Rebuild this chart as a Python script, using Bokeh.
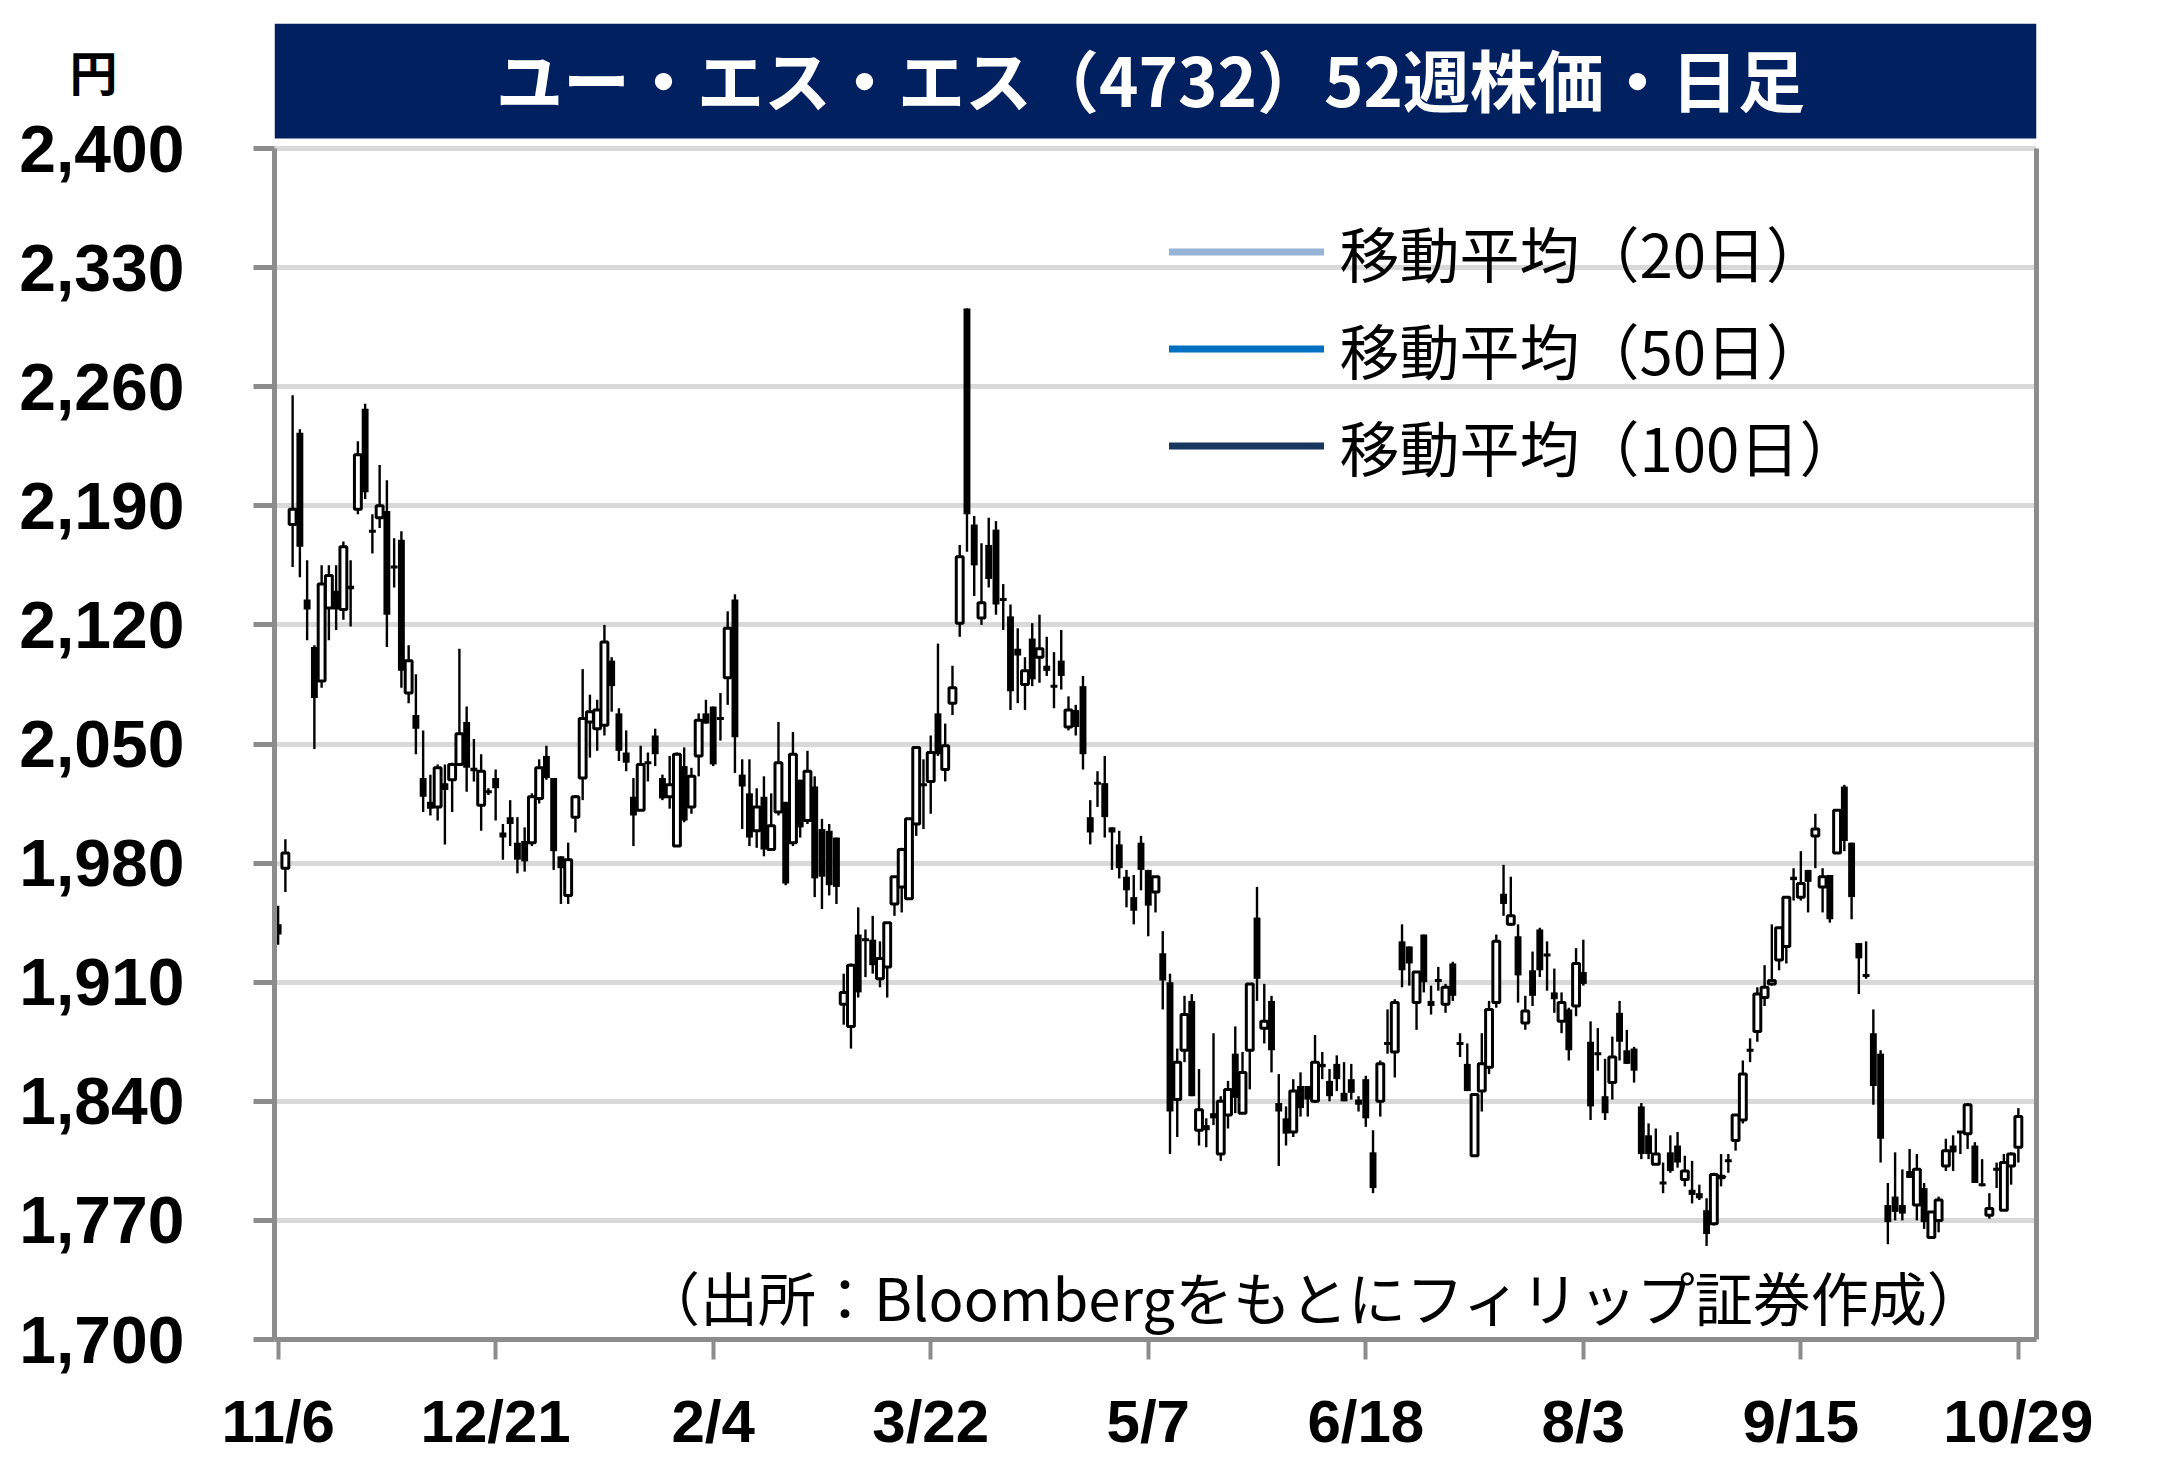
from bokeh.plotting import figure
from bokeh.models import (Range1d, FixedTicker, NumeralTickFormatter, LinearAxis, Label,
                          BoxAnnotation, Legend, LegendItem, ColumnDataSource)
from bokeh.embed import file_html
from bokeh.resources import INLINE

# ---------------- data ----------------
opens = [1944, 1977, 2179, 2233, 2135, 2107, 2087, 2130, 2140, 2129, 2143, 2188, 2247, 2175, 2183, 2187, 2154, 2170, 2080, 2067,
         2030, 2016, 2013, 2027, 2029, 2038, 2063, 2036, 2014, 2022, 2030,
         1998, 2007, 1992, 1993, 1992, 2018, 2043, 2030, 1984, 1961, 2007, 2030, 2063, 2059, 2061, 2099, 2068, 2045, 2019, 2011,
         2039, 2055, 2030, 2019, 1990, 2037, 2013, 2043, 2068, 2072,
         2065, 2089, 2135, 2032, 2021, 1999, 2019, 1988, 2010, 2016, 1992, 2029, 2005, 2025, 2000, 1999, 1995,
         1897, 1884, 1938, 1935, 1935, 1912, 1919, 1956, 1966, 1959, 2003, 2026, 2028, 2068, 2035, 2074, 2121, 2306, 2179, 2124,
         2167, 2176, 2135, 2125, 2106, 2085, 2112, 2101, 2096, 2084, 2099, 2060, 2070,
         2084, 2007, 2027, 2027, 2001, 1991, 1972, 1960, 1992, 1976, 1963, 1927, 1910, 1841, 1870, 1899, 1823, 1826, 1833, 1809,
         1832, 1868, 1833, 1870, 1948,
         1883, 1899, 1839, 1830, 1822, 1849, 1849, 1840, 1862, 1852, 1862, 1845, 1853, 1841, 1853, 1810, 1840, 1874, 1869, 1934,
         1931, 1898, 1938, 1899, 1911, 1897, 1921, 1874, 1862, 1808, 1846,
         1860, 1898, 1962, 1944, 1937, 1886, 1917, 1941, 1926, 1904, 1887, 1894, 1896, 1916, 1875, 1868, 1843, 1851, 1892, 1870,
         1871, 1837, 1820, 1803, 1792, 1810, 1814, 1794, 1788, 1786, 1776, 1768,
         1795, 1805, 1817, 1829, 1870, 1881, 1901, 1909, 1923, 1931, 1972, 1960, 1976, 1996, 1966, 1973, 1986, 2025, 1992, 1933,
         1914, 1880, 1868, 1779, 1784, 1779, 1799, 1779, 1789, 1760, 1770, 1802, 1814, 1822, 1821, 1814, 1791, 1773, 1800, 1776,
         1802, 1813]
highs = [1955, 1994, 2255, 2235, 2158, 2108, 2155, 2155, 2155, 2169, 2158, 2228, 2250, 2185, 2214, 2205, 2171, 2175, 2108, 2091,
         2058, 2032, 2038, 2038, 2039, 2106, 2072, 2053, 2044, 2024, 2035,
         2003, 2017, 2007, 2001, 2021, 2041, 2049, 2030, 1984, 1992, 2020, 2094, 2079, 2076, 2120, 2101, 2071, 2058, 2030, 2049,
         2045, 2059, 2032, 2043, 2045, 2048, 2036, 2068, 2076, 2072,
         2080, 2128, 2138, 2041, 2041, 2024, 2031, 2021, 2063, 2016, 2057, 2029, 2046, 2031, 2006, 2003, 1995,
         1915, 1921, 1954, 1941, 1949, 1934, 1945, 1972, 1989, 2006, 2048, 2041, 2055, 2109, 2062, 2096, 2167, 2306, 2184, 2168,
         2183, 2181, 2144, 2132, 2118, 2101, 2121, 2126, 2113, 2104, 2117, 2078, 2073,
         2090, 2017, 2034, 2043, 2001, 1999, 1976, 1973, 1996, 1976, 1972, 1940, 1915, 1871, 1902, 1903, 1859, 1830, 1880, 1843,
         1852, 1884, 1869, 1909, 1966,
         1909, 1902, 1856, 1837, 1853, 1857, 1849, 1879, 1869, 1859, 1867, 1863, 1862, 1843, 1855, 1823, 1864, 1894, 1900, 1944,
         1931, 1916, 1938, 1908, 1919, 1909, 1922, 1880, 1874, 1844, 1880,
         1899, 1938, 1979, 1972, 1944, 1902, 1928, 1942, 1934, 1918, 1904, 1895, 1930, 1935, 1887, 1883, 1865, 1878, 1899, 1882,
         1872, 1839, 1827, 1824, 1804, 1820, 1822, 1808, 1805, 1791, 1783, 1798,
         1809, 1809, 1832, 1864, 1877, 1907, 1920, 1944, 1942, 1960, 1977, 1987, 1976, 2009, 1977, 1973, 2011, 2026, 1992, 1933,
         1934, 1894, 1870, 1792, 1810, 1800, 1812, 1809, 1792, 1775, 1784, 1818, 1820, 1822, 1839, 1816, 1806, 1786, 1804, 1809,
         1810, 1836]
lows = [1932, 1963, 2154, 2148, 2111, 2047, 2083, 2111, 2117, 2123, 2119, 2185, 2194, 2162, 2177, 2107, 2142, 2083, 2074, 2044,
        2010, 2008, 2005, 1991, 2010, 2037, 2022, 2028, 1999, 2020, 2005,
        1982, 1990, 1974, 1975, 1990, 2015, 2029, 1976, 1956, 1956, 1998, 2017, 2042, 2046, 2055, 2069, 2040, 2034, 1990, 2011,
        2028, 2037, 2017, 2012, 1990, 2004, 2009, 2031, 2062, 2037,
        2052, 2073, 2033, 2000, 1990, 1989, 1984, 1988, 2008, 1967, 1990, 1995, 2003, 1960, 1953, 1961, 1956,
        1885, 1871, 1901, 1913, 1915, 1907, 1901, 1949, 1951, 1959, 1996, 2000, 2009, 2043, 2028, 2067, 2113, 2163, 2137, 2120,
        2142, 2126, 2117, 2070, 2074, 2070, 2084, 2086, 2090, 2071, 2082, 2058, 2055,
        2035, 1991, 2013, 1995, 1976, 1971, 1954, 1944, 1964, 1937, 1951, 1894, 1809, 1819, 1863, 1843, 1814, 1813, 1826, 1805,
        1824, 1833, 1833, 1847, 1899,
        1874, 1857, 1802, 1814, 1819, 1831, 1831, 1839, 1853, 1840, 1846, 1840, 1841, 1834, 1825, 1786, 1831, 1868, 1854, 1907,
        1908, 1882, 1904, 1891, 1905, 1892, 1899, 1866, 1846, 1808, 1834,
        1856, 1895, 1949, 1943, 1898, 1882, 1896, 1913, 1905, 1892, 1880, 1864, 1890, 1908, 1829, 1858, 1829, 1841, 1864, 1862,
        1851, 1806, 1806, 1803, 1786, 1798, 1801, 1790, 1780, 1782, 1755, 1767,
        1790, 1798, 1811, 1827, 1863, 1875, 1896, 1908, 1917, 1921, 1958, 1958, 1951, 1977, 1951, 1945, 1986, 1987, 1947, 1903,
        1912, 1838, 1804, 1756, 1770, 1770, 1795, 1770, 1765, 1760, 1763, 1799, 1799, 1809, 1812, 1792, 1790, 1771, 1789, 1776,
        1791, 1804]
closes = [1938, 1986, 2188, 2166, 2129, 2077, 2144, 2149, 2129, 2166, 2141, 2220, 2198, 2175, 2190, 2126, 2154, 2093, 2099, 2059,
          2019, 2012, 2036, 2023, 2038, 2056, 2036, 2034, 2034, 2022, 2024,
          1995, 2003, 1982, 1981, 2019, 2036, 2030, 1987, 1977, 1982, 2019, 2065, 2069, 2070, 2110, 2084, 2046, 2039, 2008, 2038,
          2039, 2044, 2018, 2026, 2044, 2005, 2031, 2064, 2062, 2038,
          2065, 2118, 2054, 2025, 1995, 2013, 1988, 2002, 2039, 1968, 2044, 2001, 2034, 1971, 1972, 1967, 1966,
          1904, 1920, 1904, 1935, 1920, 1924, 1945, 1972, 1988, 2006, 2048, 2026, 2045, 2044, 2049, 2083, 2160, 2185, 2155, 2133,
          2147, 2132, 2135, 2081, 2102, 2093, 2088, 2106, 2093, 2084, 2090, 2070, 2060,
          2044, 1998, 2027, 2007, 1998, 1977, 1964, 1952, 1976, 1955, 1972, 1911, 1834, 1863, 1891, 1843, 1835, 1823, 1830, 1840,
          1847, 1842, 1857, 1909, 1912,
          1887, 1870, 1834, 1821, 1846, 1836, 1841, 1863, 1860, 1843, 1853, 1840, 1845, 1838, 1830, 1789, 1862, 1874, 1898, 1917,
          1921, 1916, 1910, 1896, 1911, 1907, 1902, 1874, 1846, 1844, 1862,
          1894, 1934, 1956, 1949, 1914, 1893, 1902, 1917, 1926, 1900, 1898, 1870, 1921, 1909, 1837, 1868, 1833, 1866, 1875, 1862,
          1858, 1809, 1809, 1809, 1792, 1799, 1804, 1799, 1785, 1783, 1762, 1797,
          1796, 1805, 1832, 1856, 1870, 1903, 1907, 1911, 1942, 1960, 1970, 1968, 1969, 2000, 1972, 1947, 2011, 1993, 1960, 1924,
          1914, 1849, 1818, 1769, 1775, 1774, 1795, 1800, 1769, 1775, 1782, 1811, 1810, 1822, 1838, 1792, 1791, 1777, 1800, 1804,
          1809, 1831]

tick_index = [0, 30, 60, 90, 120, 150, 180, 210, 240]
tick_labels = ["11/6", "12/21", "2/4", "3/22", "5/7", "6/18", "8/3", "9/15", "10/29"]
y_ticks = [1700, 1770, 1840, 1910, 1980, 2050, 2120, 2190, 2260, 2330, 2400]
ma_names = ["移動平均（20日）", "移動平均（50日）", "移動平均（100日）"]
ma_colors = ["#95B3D7", "#0070C0", "#17375E"]
# the moving-average lines have no visible values in the picture
ma_values = [[float("nan")], [float("nan")], [float("nan")]]
title_text = "ユー・エス・エス（4732）52週株価・日足"
source_text = "（出所：Bloombergをもとにフィリップ証券作成）"
unit_text = "円"

# ---------------- geometry ----------------
W, H = 2151, 1463
LEFT, TOP = 274, 23
FRAME_W = 1762
FRAME_BOTTOM = 1339
RIGHT = W - LEFT - FRAME_W
BOTTOM = H - FRAME_BOTTOM
X_LO, X_HI = -0.5, 242.5
px_per_idx = FRAME_W / (X_HI - X_LO)
px_per_yen = 1191 / (y_ticks[-1] - y_ticks[0])
y_top = y_ticks[-1] + (148 - TOP) / px_per_yen

n = len(opens)
idx = list(range(n))
up = [i for i in idx if closes[i] >= opens[i]]
dn = [i for i in idx if closes[i] < opens[i]]

src_w = ColumnDataSource(dict(x=idx, lo=lows, hi=highs))
src_up = ColumnDataSource(dict(x=up, top=[closes[i] for i in up], bottom=[opens[i] for i in up]))
src_dn = ColumnDataSource(dict(x=dn, top=[opens[i] for i in dn], bottom=[closes[i] for i in dn]))

p = figure(width=W, height=H, x_range=Range1d(X_LO, X_HI), y_range=Range1d(y_ticks[0], y_top),
           output_backend="svg", toolbar_location=None,
           min_border_left=LEFT, min_border_right=RIGHT, min_border_top=TOP, min_border_bottom=BOTTOM)
p.outline_line_color = None
p.background_fill_color = "white"
p.border_fill_color = "white"

# title box
p.add_layout(BoxAnnotation(bottom=y_ticks[-1] + 10 / px_per_yen, fill_color="#002060", fill_alpha=1.0,
                           line_color=None))

# grid
p.xgrid.grid_line_color = None
p.ygrid.ticker = FixedTicker(ticks=y_ticks)
p.ygrid.grid_line_color = "#d9d9d9"
p.ygrid.grid_line_width = 5
p.ygrid.bounds = (y_ticks[0], y_ticks[-1])

# candles
p.segment(x0="x", y0="lo", x1="x", y1="hi", source=src_w, line_color="black", line_width=2.4)
p.vbar(x="x", top="top", bottom="bottom", width=0.95, source=src_dn, fill_color="black", line_color=None)
p.vbar(x="x", top="top", bottom="bottom", width=0.95, source=src_up, fill_color="white",
       line_color="black", line_width=3)

# moving average series (legend entries; no values visible)
ma_r = []
for c, vals in zip(ma_colors, ma_values):
    ma_r.append(p.line(x=list(range(len(vals))), y=vals, line_color=c, line_width=7, line_cap="round"))
legend = Legend(items=[LegendItem(label=nm, renderers=[r]) for nm, r in zip(ma_names, ma_r)],
                location=(894.5, 845.5), orientation="vertical", glyph_width=155, glyph_height=97,
                label_height=97, spacing=0, padding=0, margin=0, label_standoff=16,
                label_text_font="Noto Sans CJK JP", label_text_font_size="60px", label_text_color="black",
                background_fill_alpha=0, border_line_color=None)
p.add_layout(legend, "center")

# axes
ax = p.xaxis[0]
ax.ticker = FixedTicker(ticks=tick_index)
ax.major_label_overrides = {t: l for t, l in zip(tick_index, tick_labels)}
ax.axis_line_color = "#8c8c8c"
ax.axis_line_width = 5
ax.major_tick_line_color = "#8c8c8c"
ax.major_tick_line_width = 4
ax.major_tick_out = 20
ax.major_tick_in = 0
ax.minor_tick_line_color = None
ax.major_label_text_font = "Liberation Sans"
ax.major_label_text_font_style = "bold"
ax.major_label_text_font_size = "60px"
ax.major_label_text_color = "black"
ax.major_label_standoff = 28

ay = p.yaxis[0]
ay.ticker = FixedTicker(ticks=y_ticks)
ay.formatter = NumeralTickFormatter(format="0,0")
ay.bounds = (y_ticks[0], y_ticks[-1])
ay.axis_line_color = "#8c8c8c"
ay.axis_line_width = 5
ay.major_tick_line_color = "#8c8c8c"
ay.major_tick_line_width = 5
ay.major_tick_out = 21
ay.major_tick_in = 0
ay.minor_tick_line_color = None
ay.major_label_text_font = "Liberation Sans"
ay.major_label_text_font_style = "bold"
ay.major_label_text_font_size = "66px"
ay.major_label_text_color = "black"
ay.major_label_standoff = 69

ra = LinearAxis(ticker=FixedTicker(ticks=[]), bounds=(y_ticks[0], y_ticks[-1]),
                axis_line_color="#8c8c8c", axis_line_width=5, major_tick_line_color=None,
                minor_tick_line_color=None, major_label_text_font_size="0px")
p.add_layout(ra, "right")

# texts
p.add_layout(Label(x=1150 - LEFT, y=FRAME_BOTTOM - 76.5, x_units="screen", y_units="screen", text=title_text,
                   text_font="Noto Sans CJK JP", text_font_style="bold", text_font_size="67px",
                   text_color="white", text_align="center", text_baseline="middle"))
p.add_layout(Label(x=1040, y=FRAME_BOTTOM - 1295, x_units="screen", y_units="screen", text=source_text,
                   text_font="Noto Sans CJK JP", text_font_size="58px",
                   text_color="black", text_align="center", text_baseline="middle"))
# unit label: placed in the (roomy) right side panel so it is not clipped to the frame;
# its position is given in data units, so it lands at the top-left of the chart
unit_x = X_LO + (93 - LEFT) / px_per_idx
unit_y = y_ticks[-1] + (148 - 69) / px_per_yen
p.add_layout(Label(x=unit_x, y=unit_y, text=unit_text,
                   text_font="Noto Sans CJK JP", text_font_style="bold", text_font_size="48px",
                   text_color="black", text_align="center", text_baseline="middle"), "right")

open("out.html", "w").write(file_html(p, INLINE))
